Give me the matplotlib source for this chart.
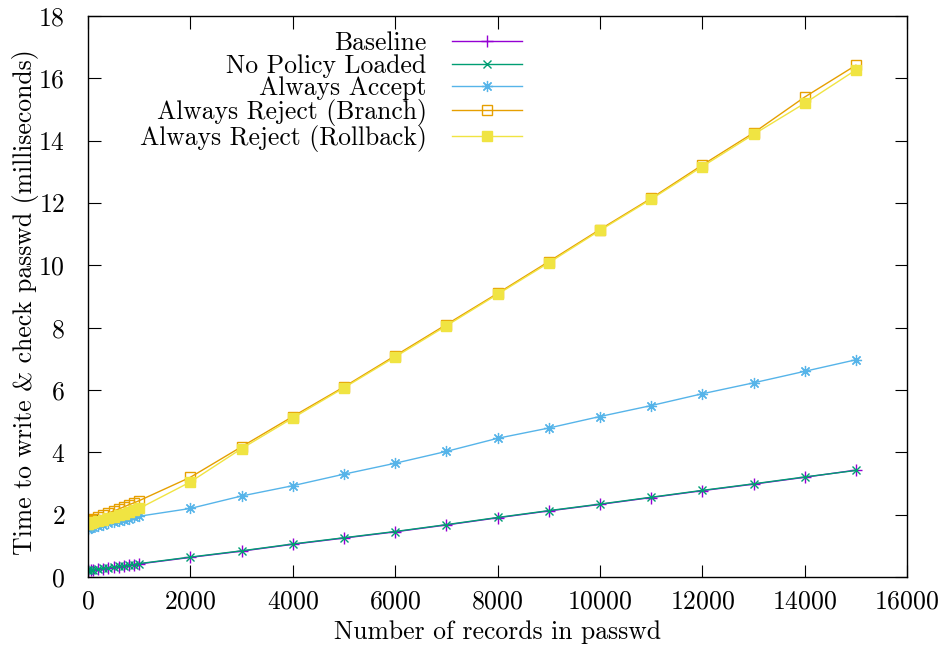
import matplotlib
matplotlib.use("Agg")
import matplotlib.pyplot as plt

plt.rcParams['font.family'] = ['cmr10', 'DejaVu Serif']
plt.rcParams['axes.formatter.use_mathtext'] = True
plt.rcParams['font.size'] = 18.5

records = [1, 10, 50, 100, 200, 300, 400, 500, 600, 700, 800, 900, 1000,
           2000, 3000, 4000, 5000, 6000, 7000, 8000, 9000, 10000,
           11000, 12000, 13000, 14000, 15000]

baseline = [0.20, 0.21, 0.22, 0.23, 0.25, 0.27, 0.29, 0.31, 0.33, 0.35, 0.37, 0.39, 0.42,
            0.63, 0.83, 1.05, 1.25, 1.45, 1.67, 1.90, 2.12, 2.33,
            2.55, 2.77, 2.98, 3.20, 3.43]
no_policy = [0.21, 0.22, 0.23, 0.24, 0.26, 0.28, 0.30, 0.32, 0.34, 0.36, 0.38, 0.40, 0.43,
             0.64, 0.84, 1.06, 1.26, 1.46, 1.68, 1.91, 2.13, 2.34,
             2.56, 2.78, 2.99, 3.21, 3.42]
always_accept = [1.55, 1.56, 1.58, 1.60, 1.64, 1.68, 1.72, 1.76, 1.80, 1.84, 1.87, 1.91, 1.95,
                 2.20, 2.60, 2.93, 3.30, 3.65, 4.03, 4.45, 4.78, 5.15,
                 5.50, 5.88, 6.23, 6.60, 6.97]
reject_branch = [1.80, 1.82, 1.84, 1.87, 1.92, 1.98, 2.05, 2.12, 2.18, 2.25, 2.32, 2.38, 2.45,
                 3.20, 4.18, 5.15, 6.10, 7.10, 8.10, 9.10, 10.12, 11.15,
                 12.15, 13.22, 14.25, 15.40, 16.42]
reject_rollback = [1.70, 1.71, 1.73, 1.75, 1.79, 1.83, 1.88, 1.93, 1.98, 2.03, 2.08, 2.14, 2.20,
                   3.05, 4.12, 5.10, 6.07, 7.06, 8.06, 9.07, 10.08, 11.12,
                   12.12, 13.17, 14.20, 15.20, 16.27]

labels = ["Baseline", "No Policy Loaded", "Always Accept",
          "Always Reject (Branch)", "Always Reject (Rollback)"]
colors = ["#9400D3", "#009E73", "#56B4E9", "#E69F00", "#F0E442"]

xticks = [0, 2000, 4000, 6000, 8000, 10000, 12000, 14000, 16000]
yticks = [0, 2, 4, 6, 8, 10, 12, 14, 16, 18]

fig = plt.figure(figsize=(9.4, 6.56), dpi=100)
ax = fig.add_axes([0.0936, 0.1204, 0.965 - 0.0936, 0.9756 - 0.1204])

lw = 1.0
ax.plot(records, baseline, color=colors[0], lw=lw, marker='+', ms=8, mew=1.0, label=labels[0])
ax.plot(records, no_policy, color=colors[1], lw=lw, marker='x', ms=6, mew=1.0, label=labels[1])
ax.plot(records, always_accept, color=colors[2], lw=lw, marker=(8, 2, 0), ms=8, mew=0.9, label=labels[2])
ax.plot(records, reject_branch, color=colors[3], lw=lw, marker='s', ms=7, mew=1.0,
        mfc='none', label=labels[3])
ax.plot(records, reject_rollback, color=colors[4], lw=lw, marker='s', ms=7, mew=1.0,
        label=labels[4])

ax.set_xlim(0, 16000)
ax.set_ylim(0, 18)
ax.set_xticks(xticks)
ax.set_yticks(yticks)
ax.tick_params(direction='in', length=9, width=0.8, top=True, right=True)
ax.tick_params(axis='x', pad=9)
ax.tick_params(axis='y', pad=16.5)
for s in ax.spines.values():
    s.set_linewidth(1.0)

ax.set_xlabel("Number of records in passwd", labelpad=5)
ax.set_ylabel("Time to write & check passwd (milliseconds)")
ax.yaxis.set_label_coords(-0.060, 0.49)

leg = ax.legend(loc='upper right', bbox_to_anchor=(0.53, 0.972), frameon=False,
                markerfirst=False, borderpad=0, borderaxespad=0, handlelength=2.72,
                handletextpad=1.0, labelspacing=-0.05)

fig.savefig("out.png", dpi=100)
